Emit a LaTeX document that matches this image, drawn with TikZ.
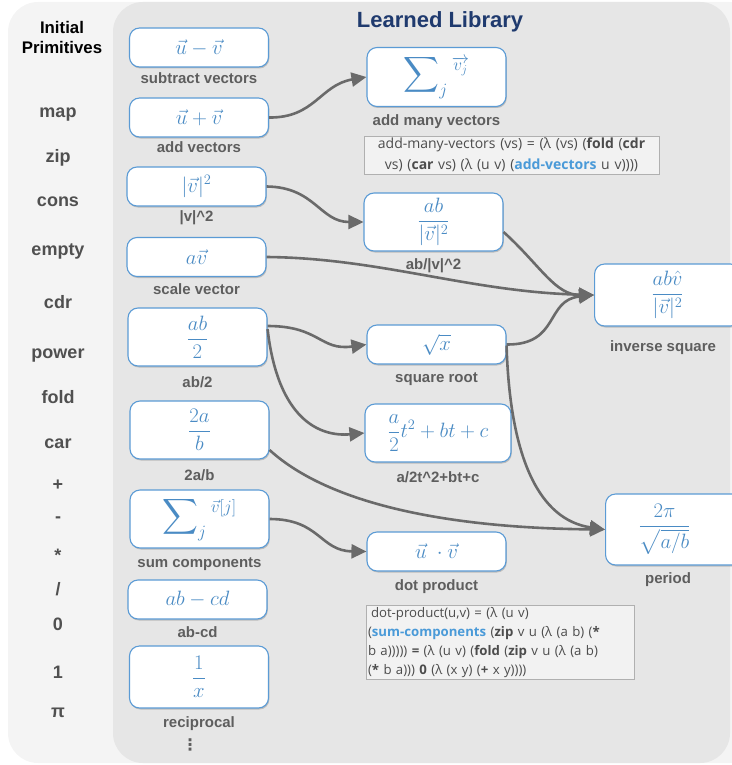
\documentclass[tikz,border=0pt]{standalone}
\usepackage{fontspec}
\usepackage{amsmath}
\setmainfont{Liberation Sans}
\newfontfamily\codefont{Open Sans}
\newfontfamily\dejavu{DejaVu Sans}
\usetikzlibrary{arrows.meta,shadows}
\definecolor{panelL}{HTML}{F4F4F4}
\definecolor{panelR}{HTML}{E6E6E6}
\definecolor{boxblue}{HTML}{5B9BD5}
\definecolor{mathblue}{HTML}{4A8BC4}
\definecolor{capgray}{HTML}{5E5E5E}
\definecolor{primgray}{HTML}{505050}
\definecolor{arrgray}{HTML}{6A6A6A}
\definecolor{titleblue}{HTML}{1F3A6E}
\definecolor{codeblue}{HTML}{4A9AD8}
\definecolor{codebg}{HTML}{F2F2F2}
\definecolor{codeborder}{HTML}{B0B0B0}
\begin{document}
\begin{tikzpicture}[x=1pt,y=-1pt,
  fbox/.style={draw=boxblue, line width=1.1pt, fill=white, rounded corners=10pt,
     minimum width=139pt, minimum height=39pt, inner sep=2pt,
     text=mathblue, font=\fontsize{20}{22}\selectfont,
     drop shadow={shadow xshift=0.8pt, shadow yshift=-1.5pt, opacity=0.18, fill=black}},
  bigsum/.style={font=\fontsize{26}{28}\selectfont},
  caplbl/.style={text=capgray, font=\bfseries\fontsize{15}{17}\selectfont, inner sep=0pt},
  prim/.style={text=primgray, font=\bfseries\fontsize{18}{20}\selectfont, inner sep=0pt},
  codebox/.style={draw=codeborder, line width=0.8pt, fill=codebg, inner sep=2pt, text=black!70},
  arr/.style={draw=arrgray, line width=2.6pt, -{Triangle[length=15pt,width=14pt]}}
]
\useasboundingbox (0,0) rectangle (731,765);
% panels
\fill[panelL, rounded corners=30pt] (8,2) rectangle (760,763);
\fill[panelR, rounded corners=30pt] (113,2) rectangle (730,763);

% header
\node[font=\bfseries\fontsize{16.8}{20}\selectfont, align=center, inner sep=0pt] (hdr) at (62,37) {Initial\\Primitives};
\node[font=\bfseries\fontsize{22}{24}\selectfont, text=titleblue, inner sep=0pt] (title) at (440,22) {Learned Library};

% primitives
\node[prim] (p1) at (58,115) {map};
\node[prim] (p2) at (58,158) {zip};
\node[prim] (p3) at (58,202) {cons};
\node[prim] (p4) at (58,251) {empty};
\node[prim] (p5) at (58,302) {cdr};
\node[prim] (p6) at (58,356) {power};
\node[prim] (p7) at (58,397) {fold};
\node[prim] (p8) at (58,444) {car};
\node[prim] (p9) at (58,485) {+};
\node[prim] (p10) at (58,520) {-};
\node[prim] (p11) at (58,555) {*};
\node[prim] (p12) at (58,589) {/};
\node[prim] (p13) at (58,624) {0};
\node[prim] (p14) at (58,672) {1};
\node[prim] (p15) at (58,713) {π};

% left column
\node[fbox] (sub) at (199,47.5) {$\vec u - \vec v$};
\node[caplbl] (subl) at (199,78) {subtract vectors};
\node[fbox] (add) at (199,117.5) {$\vec u + \vec v$};
\node[caplbl] (addl) at (199,147) {add vectors};
\node[fbox] (vsq) at (196.5,186.5) {$|\vec v|^2$};
\node[caplbl] (vsql) at (196.5,218) {|v|\^{}2};
\node[fbox] (av) at (196.5,257) {$a\vec v$};
\node[caplbl] (avl) at (196.5,289) {scale vector};
\node[fbox, minimum height=58pt] (ab2) at (197.5,337) {$\dfrac{ab}{2}$};
\node[caplbl] (ab2l) at (197.5,382) {ab/2};
\node[fbox, minimum height=58pt] (tab) at (199.5,430) {$\dfrac{2a}{b}$};
\node[caplbl] (tabl) at (199.5,475) {2a/b};
\node[fbox, bigsum, minimum height=58pt] (sumc) at (199.5,519) {$\displaystyle\sum\nolimits_j{}^{\vec v[j]}$};
\node[caplbl] (sumcl) at (199.5,564) {sum components};
\node[fbox] (abcd) at (197.5,599.5) {$ab-cd$};
\node[caplbl] (abcdl) at (197.5,632) {ab-cd};
\node[fbox, minimum height=62pt] (rec) at (199,677) {$\dfrac{1}{x}$};
\node[caplbl] (recl) at (199,724) {reciprocal};
\node[text=capgray, inner sep=0pt, font=\dejavu\bfseries\fontsize{16}{16}\selectfont] (dots) at (190,745) {⋮};

% middle column
\node[fbox, bigsum, minimum height=59pt] (sumv) at (436.5,77) {$\displaystyle\sum\nolimits_j{}^{\overrightarrow{v_j}}$};
\node[caplbl] (sumvl) at (436.5,122) {add many vectors};
\node[codebox, text width=291pt, align=center, font=\codefont\fontsize{14}{21}\selectfont] (code1) at (511.5,155)
  {add-many-vectors (vs) = (λ (vs) (\textbf{fold} (\textbf{cdr}\\ vs) (\textbf{car} vs) (λ (u v) (\textcolor{codeblue}{\textbf{add-vectors}} u v))))};
\node[fbox, minimum height=58pt] (abv) at (433.5,222) {$\dfrac{ab}{|\vec v|^2}$};
\node[caplbl] (abvl) at (433.5,266) {ab/|v|\^{}2};
\node[fbox] (sqr) at (436.5,344.5) {$\sqrt{x}$};
\node[caplbl] (sqrl) at (436.5,379) {square root};
\node[fbox, minimum width=146pt, minimum height=58pt] (quad) at (438,433) {$\dfrac{a}{2}t^2+bt+c$};
\node[caplbl] (quadl) at (438,477) {a/2t\^{}2+bt+c};
\node[fbox] (dot) at (436.5,551.5) {$\vec u\ \cdot \vec v$};
\node[caplbl] (dotl) at (436.5,587) {dot product};
\node[codebox, text width=264pt, align=left, font=\codefont\fontsize{13.2}{19}\selectfont] (code2) at (500,642.5)
  {\hspace{3pt}dot-product(u,v) = (λ (u v)\\
   (\textcolor{codeblue}{\textbf{sum-components}} (\textbf{zip} v u (λ (a b) (\textbf{*}\\
   b a))))) \textbf{=} (λ (u v) (\textbf{fold} (\textbf{zip} v u (λ (a b)\\
   (\textbf{*} b a))) \textbf{0} (λ (x y) (\textbf{+} x y))))};

% right column
\node[fbox, minimum width=146pt, minimum height=62pt, anchor=west] (inv) at (594,295) {$\dfrac{ab\hat v}{|\vec v|^2}$};
\node[caplbl] (invl) at (663,348) {inverse square};
\node[fbox, minimum width=136pt, minimum height=71pt, anchor=west] (per) at (605,529.5) {\hspace{-18pt}$\dfrac{2\pi}{\sqrt{a/b}}$};
\node[caplbl] (perl) at (668,580) {period};

% arrows
\draw[arr] (add.east) .. controls (315,118) and (320,85) .. (sumv.west);
\draw[arr] (vsq.east) .. controls (315,187) and (320,222) .. (abv.west);
\draw[arr] (av.east) .. controls (380,258) and (470,292) .. (inv.west);
\draw[arr] (abv.east) ++(0,10) .. controls (540,265) and (555,295) .. (inv.west);
\draw[arr] (sqr.east) .. controls (560,345) and (545,300) .. (inv.west);
\draw[arr] (ab2.east) ++(0,-11) .. controls (320,326) and (320,351) .. (sqr.west);
\draw[arr] (ab2.east) ++(0,-8) .. controls (278,420) and (320,437) .. (quad.west);
\draw[arr] (sqr.east) ++(0,1) .. controls (510,460) and (540,520) .. (per.west);
\draw[arr] (tab.east) ++(0,20) .. controls (330,505) and (450,528) .. (per.west);
\draw[arr] (sumc.east) .. controls (320,519) and (320,551) .. (dot.west);
\end{tikzpicture}
\end{document}
